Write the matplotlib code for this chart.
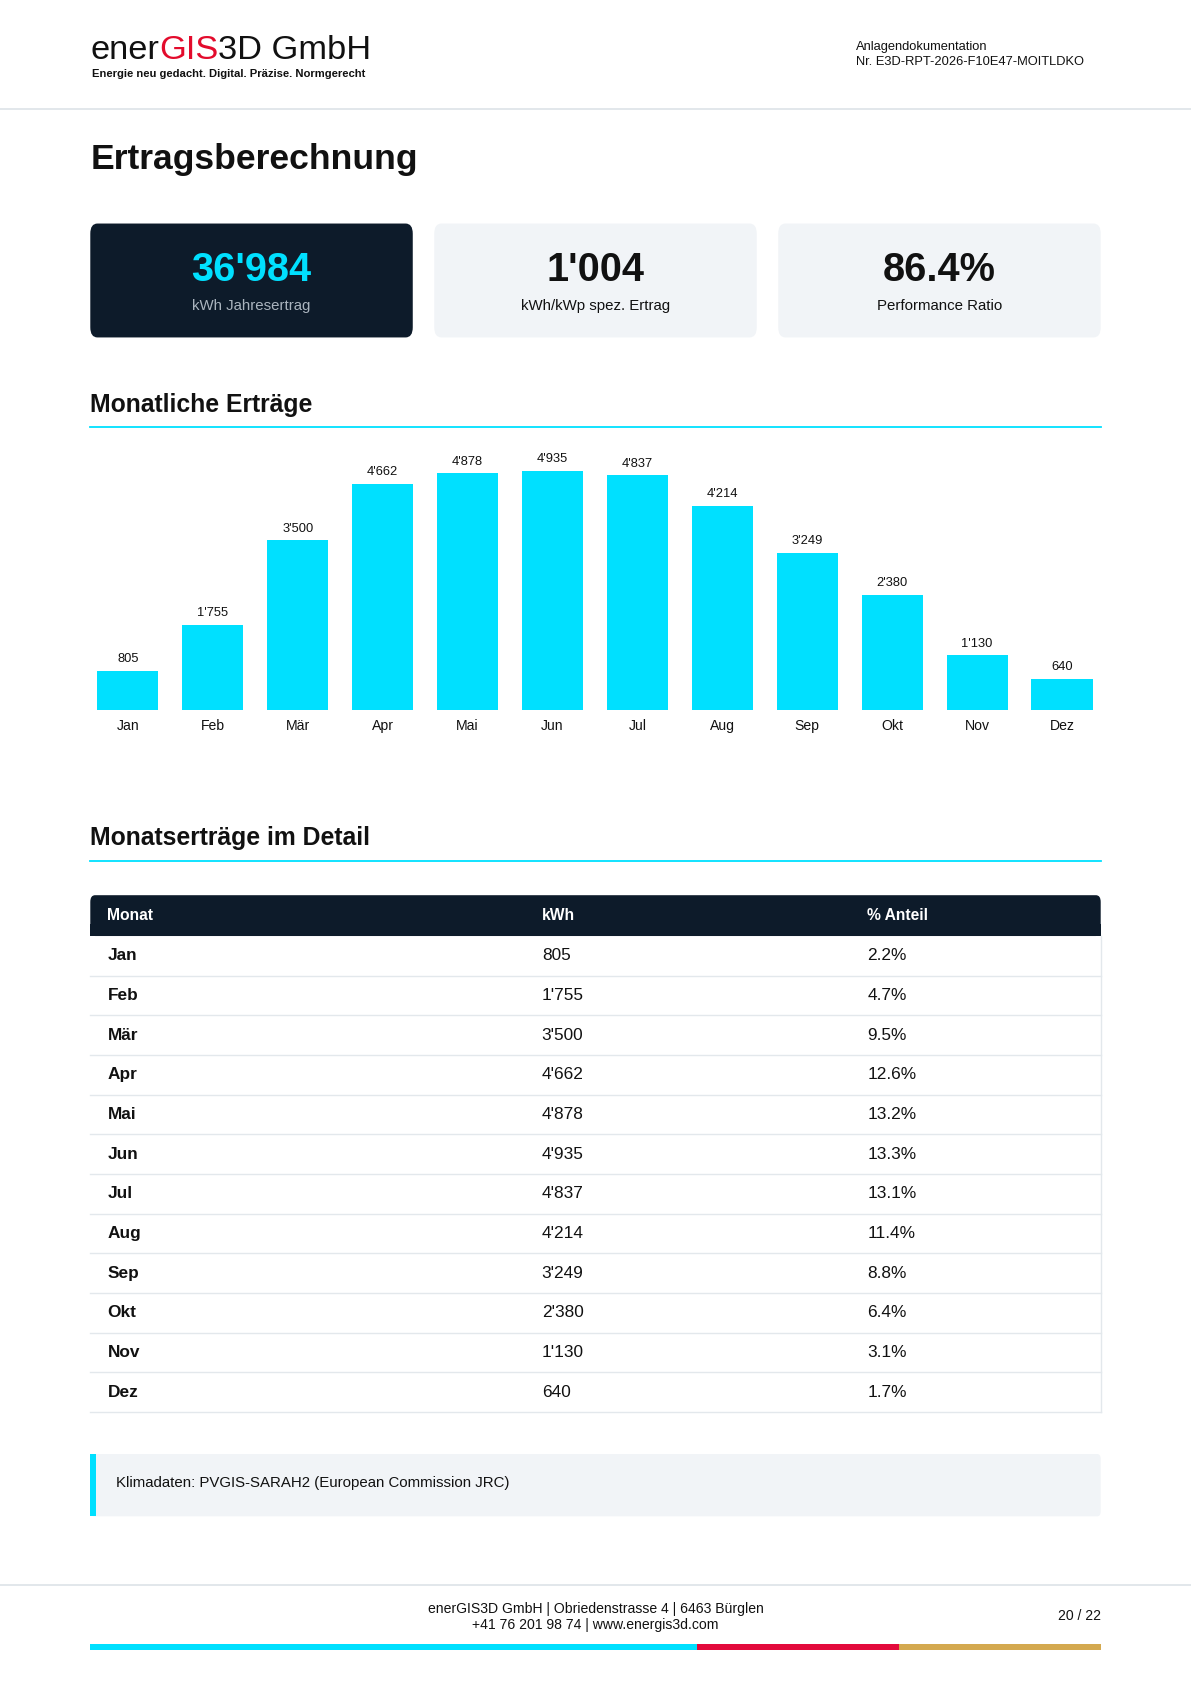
import matplotlib.pyplot as plt
from matplotlib.patches import FancyBboxPatch, Rectangle

plt.rcParams['font.family'] = ['Liberation Sans', 'DejaVu Sans']

months = ['Jan', 'Feb', 'Mär', 'Apr', 'Mai', 'Jun', 'Jul', 'Aug', 'Sep', 'Okt', 'Nov', 'Dez']
kwh = [805, 1755, 3500, 4662, 4878, 4935, 4837, 4214, 3249, 2380, 1130, 640]
share = ['2.2%', '4.7%', '9.5%', '12.6%', '13.2%', '13.3%', '13.1%', '11.4%', '8.8%', '6.4%', '3.1%', '1.7%']
kpi_values = ["36'984", "1'004", "86.4%"]
kpi_labels = ['kWh Jahresertrag', 'kWh/kWp spez. Ertrag', 'Performance Ratio']

CYAN = '#00e0ff'
DARK = '#0d1b2a'
LIGHT = '#f1f4f7'

W, H = 1108.0, 1567.0   # layout grid of the page
S = 1191 / W            # grid px -> real px

fig = plt.figure(figsize=(11.91, 16.84), dpi=100)


def fx(x):
    return x / W


def fy(y):
    return 1 - y / H


def fs(px):
    return px * S * 0.72


def txt(x, y, s, size, **kw):
    return fig.text(fx(x), fy(y), s, fontsize=fs(size), **kw)


def fmt(v):
    return f"{v:,}".replace(',', "'")


def rect(x0, y0, x1, y1, color, rounded=0.0):
    if rounded:
        p = FancyBboxPatch((fx(x0), fy(y1)), fx(x1 - x0), (y1 - y0) / H,
                           boxstyle=f"round,pad=0,rounding_size={rounded}",
                           transform=fig.transFigure, facecolor=color, edgecolor='none')
    else:
        p = Rectangle((fx(x0), fy(y1)), fx(x1 - x0), (y1 - y0) / H,
                      transform=fig.transFigure, facecolor=color, edgecolor='none')
    fig.patches.append(p)


def hline(y, x0, x1, color, lw):
    fig.add_artist(plt.Line2D([fx(x0), fx(x1)], [fy(y), fy(y)], color=color, lw=lw))


# header logo, pieces placed side by side
fig.canvas.draw()
r = fig.canvas.get_renderer()
xpos = 84
for part, col in [('ener', '#111111'), ('GIS', '#e30b2c'), ('3D GmbH', '#111111')]:
    t = txt(xpos, 47, part, 32, va='center', color=col)
    xpos += t.get_window_extent(renderer=r).width / S
txt(86, 69, 'Energie neu gedacht. Digital. Präzise. Normgerecht', 10.5, va='center',
    weight='bold', color='#111111')
txt(796, 44, 'Anlagendokumentation', 12, va='center', color='#111111')
txt(796, 58, 'Nr. E3D-RPT-2026-F10E47-MOITLDKO', 12, va='center', color='#111111')
hline(101, 0, W, '#dde3e8', 1.2)

txt(84, 148, 'Ertragsberechnung', 33, va='center', weight='bold', color='#111111')

# KPI cards
for i, (v, lab) in enumerate(zip(kpi_values, kpi_labels)):
    x0 = 84 + i * 320
    rect(x0, 208, x0 + 300, 314, DARK if i == 0 else LIGHT, rounded=0.006)
    cx = x0 + 150
    txt(cx, 251, v, 37, ha='center', va='center', weight='bold',
        color=CYAN if i == 0 else '#111111')
    txt(cx, 285, lab, 14, ha='center', va='center',
        color='#aab4be' if i == 0 else '#111111')

# monthly chart
txt(84, 377, 'Monatliche Erträge', 23, va='center', weight='bold', color='#111111')
hline(397, 84, 1024, CYAN, 1.3)

ax = fig.add_axes([fx(84), fy(661), fx(1024 - 84), (661 - 410) / H])
xs = list(range(len(months)))
ax.bar(xs, kwh, width=0.72, color=CYAN)
ax.set_xlim(-35 / 79, 11 + 36 / 79)
ax.set_ylim(0, 4935 * 251 / 223)
for x, v in zip(xs, kwh):
    ax.text(x, v + 120, fmt(v), ha='center', va='bottom', fontsize=fs(12), color='#111111')
ax.set_xticks(xs)
ax.set_xticklabels(months, fontsize=fs(13), color='#111111')
ax.tick_params(length=0, pad=6)
ax.set_yticks([])
for sp in ax.spines.values():
    sp.set_visible(False)

# detail table
txt(84, 780, 'Monatserträge im Detail', 23, va='center', weight='bold', color='#111111')
hline(801, 84, 1024, CYAN, 1.3)

cols_x = [100, 504, 807]
rect(84, 833, 1024, 871, DARK, rounded=0.004)
rect(84, 860, 1024, 871, DARK)
for x, h in zip(cols_x, ['Monat', 'kWh', '% Anteil']):
    txt(x, 852, h, 14.5, va='center', weight='bold', color='white')
row_h = (1314 - 871) / 12
for i, (m, v, p) in enumerate(zip(months, kwh, share)):
    y0 = 871 + i * row_h
    yc = y0 + row_h / 2
    txt(cols_x[0], yc, m, 16, va='center', weight='bold', color='#111111')
    txt(cols_x[1], yc, fmt(v), 16, va='center', color='#111111')
    txt(cols_x[2], yc, p, 16, va='center', color='#111111')
    hline(y0 + row_h, 84, 1024, '#e3e8ec', 1.0)
fig.add_artist(plt.Line2D([fx(1024), fx(1024)], [fy(871), fy(1314)], color='#e3e8ec', lw=1.0))

# source note
rect(84, 1353, 1024, 1411, LIGHT, rounded=0.003)
rect(84, 1353, 89, 1411, CYAN)
txt(108, 1380, 'Klimadaten: PVGIS-SARAH2 (European Commission JRC)', 14, va='center', color='#111111')

# footer
hline(1475, 0, W, '#dde3e8', 1.2)
txt(554, 1497, 'enerGIS3D GmbH | Obriedenstrasse 4 | 6463 Bürglen', 13, ha='center', va='center', color='#111111')
txt(554, 1512, '+41 76 201 98 74 | www.energis3d.com', 13, ha='center', va='center', color='#111111')
txt(1024, 1504, '20 / 22', 13, ha='right', va='center', color='#111111')
rect(84, 1530, 648, 1535, CYAN)
rect(648, 1530, 836, 1535, '#e30b3c')
rect(836, 1530, 1024, 1535, '#d4a94f')

fig.savefig('out.png', dpi=100, facecolor='white')
